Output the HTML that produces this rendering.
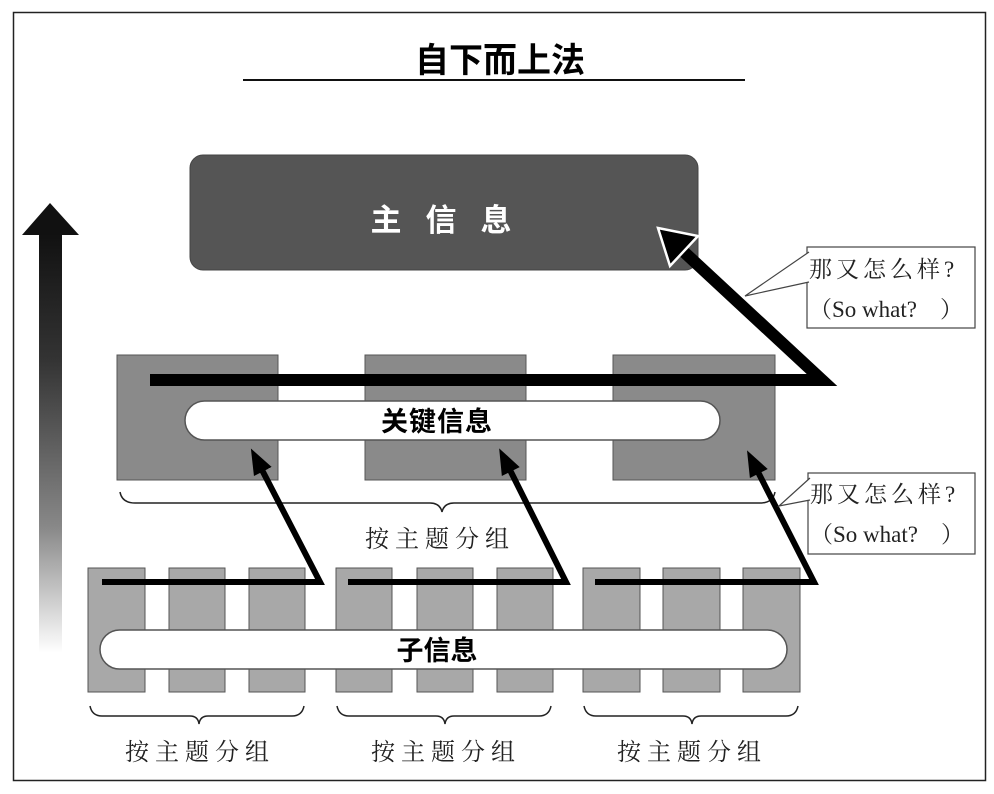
<!DOCTYPE html>
<html><head><meta charset="utf-8"><style>
html,body{margin:0;padding:0;background:#fff;}
svg{display:block;}
text{font-family:"Liberation Sans","Noto Sans CJK SC",sans-serif;}
.s{font-family:"Liberation Serif","Noto Serif CJK SC",serif;}
</style></head><body>
<svg width="994" height="794" viewBox="0 0 994 794" xmlns="http://www.w3.org/2000/svg">
<defs>
<linearGradient id="g" x1="0" y1="0" x2="0" y2="1">
<stop offset="0" stop-color="#111"/><stop offset="0.3" stop-color="#333"/><stop offset="0.7" stop-color="#888"/><stop offset="1" stop-color="#fff"/>
</linearGradient>
<marker id="ah" markerUnits="userSpaceOnUse" markerWidth="30" markerHeight="24" refX="4" refY="12" orient="auto" viewBox="0 0 30 24">
<polygon points="0,2 26,12 0,22" fill="#000"/>
</marker>
</defs>
<rect x="13.5" y="12.5" width="972" height="768" fill="#fff" stroke="#222" stroke-width="1.5"/>
<text x="500" y="72" font-size="34" font-weight="bold" text-anchor="middle">自下而上法</text>
<line x1="243" y1="80" x2="745" y2="80" stroke="#111" stroke-width="2"/>
<!-- left arrow -->
<rect x="39" y="233" width="23" height="420" fill="url(#g)"/>
<polygon points="22,235 50,203 79,235" fill="#111"/>
<!-- main box -->
<rect x="190" y="155" width="508" height="115" rx="13" fill="#555" stroke="#444"/>
<text x="453" y="231" font-size="31" font-weight="bold" fill="#fff" text-anchor="middle" letter-spacing="24">主信息</text>
<!-- key boxes -->
<rect x="117" y="355" width="161" height="125" fill="#8a8a8a" stroke="#555"/>
<rect x="365" y="355" width="161" height="125" fill="#8a8a8a" stroke="#555"/>
<rect x="613" y="355" width="162" height="125" fill="#8a8a8a" stroke="#555"/>
<rect x="185" y="401" width="535" height="39" rx="19.5" fill="#fff" stroke="#555" stroke-width="1.5"/>
<text x="437" y="431" font-size="27" font-weight="bold" text-anchor="middle" letter-spacing="1">关键信息</text>
<polyline points="150,380 822,380 684,252" fill="none" stroke="#000" stroke-width="12" stroke-linejoin="miter" stroke-miterlimit="10"/>
<polygon points="658,228 698,236 670,266" fill="#000" stroke="#fff" stroke-width="2.5"/>
<!-- brace top -->
<path d="M120,492 Q122,503 135,503 L430,503 Q440,503 442,512 Q444,503 454,503 L760,503 Q773,503 775,492" fill="none" stroke="#222" stroke-width="1.5"/>
<text x="440" y="547" font-size="24" text-anchor="middle" class="s" fill="#222" letter-spacing="6">按主题分组</text>
<!-- sub boxes -->
<g fill="#a8a8a8" stroke="#555">
<rect x="88" y="568" width="57" height="124"/><rect x="169" y="568" width="56" height="124"/><rect x="249" y="568" width="56" height="124"/>
<rect x="336" y="568" width="56" height="124"/><rect x="417" y="568" width="56" height="124"/><rect x="497" y="568" width="56" height="124"/>
<rect x="583" y="568" width="57" height="124"/><rect x="663" y="568" width="57" height="124"/><rect x="743" y="568" width="57" height="124"/>
</g>
<rect x="100" y="630" width="687" height="39" rx="19.5" fill="#fff" stroke="#555" stroke-width="1.5"/>
<text x="437" y="660" font-size="27" font-weight="bold" text-anchor="middle">子信息</text>
<g fill="none" stroke="#000" stroke-width="6" stroke-linejoin="miter" stroke-miterlimit="10">
<polyline points="102,582 320,582 261,468" marker-end="url(#ah)"/>
<polyline points="348,582 566,582 509,468" marker-end="url(#ah)"/>
<polyline points="595,582 814,582 757,470" marker-end="url(#ah)"/>
</g>
<!-- bottom braces -->
<g fill="none" stroke="#222" stroke-width="1.5">
<path d="M90,706 Q92,716 102,716 L190,716 Q198,716 199,724 Q200,716 208,716 L292,716 Q302,716 304,706"/>
<path d="M337,706 Q339,716 349,716 L436,716 Q444,716 445,724 Q446,716 454,716 L539,716 Q549,716 551,706"/>
<path d="M584,706 Q586,716 596,716 L683,716 Q691,716 692,724 Q693,716 701,716 L786,716 Q796,716 798,706"/>
</g>
<g font-size="24" text-anchor="middle" fill="#222" letter-spacing="6">
<text x="200" y="760" class="s">按主题分组</text>
<text x="446" y="760" class="s">按主题分组</text>
<text x="692" y="760" class="s">按主题分组</text>
</g>
<!-- callouts -->
<rect x="807" y="247" width="168" height="81" fill="#fff" stroke="#444" stroke-width="1.2"/>
<polyline points="809,252 745,296 809,282" fill="#fff" stroke="#444" stroke-width="1.2"/>
<text x="809" y="277" font-size="23" class="s" fill="#222" letter-spacing="4">那又怎么样?</text>
<text x="809" y="317" font-size="23" class="s" fill="#222">（So what?　）</text>
<rect x="808" y="473" width="167" height="81" fill="#fff" stroke="#444" stroke-width="1.2"/>
<polyline points="810,478 779,506 810,500" fill="#fff" stroke="#444" stroke-width="1.2"/>
<text x="810" y="502" font-size="23" class="s" fill="#222" letter-spacing="4">那又怎么样?</text>
<text x="810" y="542" font-size="23" class="s" fill="#222">（So what?　）</text>
</svg>
</body></html>
